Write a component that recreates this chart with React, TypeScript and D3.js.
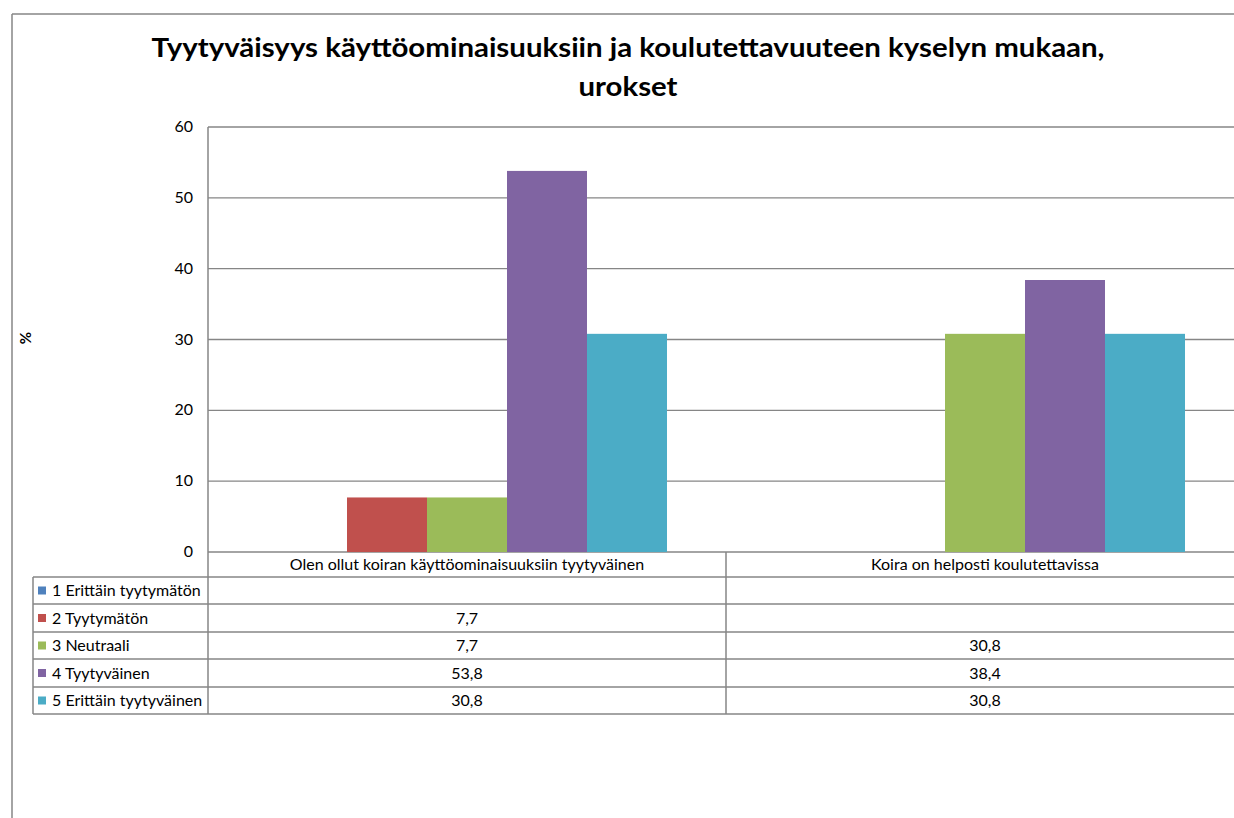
import React from "react";
import * as d3 from "d3";

const categories = [
  "Olen ollut koiran käyttöominaisuuksiin tyytyväinen",
  "Koira on helposti koulutettavissa",
];
const seriesNames = [
  "1 Erittäin tyytymätön",
  "2 Tyytymätön",
  "3 Neutraali",
  "4 Tyytyväinen",
  "5 Erittäin tyytyväinen",
];
const seriesColors = ["#4F81BD", "#C0504D", "#9BBB59", "#8064A2", "#4BACC6"];
const s1: (number | null)[] = [null, null];
const s2: (number | null)[] = [7.7, null];
const s3: (number | null)[] = [7.7, 30.8];
const s4: (number | null)[] = [53.8, 38.4];
const s5: (number | null)[] = [30.8, 30.8];
const seriesValues = [s1, s2, s3, s4, s5];
const yTicks = [0, 10, 20, 30, 40, 50, 60];
const titleLines = [
  "Tyytyväisyys käyttöominaisuuksiin ja koulutettavuuteen kyselyn mukaan,",
  "urokset",
];

const FONT = "Lato, 'Open Sans', sans-serif";
const GRID = "#868686";

export default function App() {
  const W = 1234, H = 818;
  const plotL = 208, plotT = 127, plotB = 552, plotR = 1244;
  const y = d3.scaleLinear().domain([0, 60]).range([plotB, plotT]);
  const x0 = d3.scaleBand().domain(categories).range([plotL, plotR]).paddingInner(0).paddingOuter(0);
  const groupPad = 59;
  const x1 = d3.scaleBand().domain(seriesNames).range([groupPad, x0.bandwidth() - groupPad]);
  const rowTops = [577, 604, 632, 659, 687, 714];
  const tableL = 33;
  const fmt = (v: number) => v.toFixed(1).replace(".", ",");
  const titleLens = [953, 99];

  return (
    <svg width={W} height={H} style={{ position: "absolute", left: 0, top: 0, background: "#fff" }}>
      <rect x={0} y={0} width={W} height={H} fill="#fff" />
      {/* outer frame */}
      <line x1={12} y1={14} x2={W} y2={14} stroke={GRID} strokeWidth={1.5} />
      <line x1={12} y1={14} x2={12} y2={H} stroke={GRID} strokeWidth={1.5} />
      {/* title */}
      {titleLines.map((t, i) => (
        <text key={i} x={628} y={57 + i * 39} textAnchor="middle" fontFamily={FONT}
          fontWeight="bold" fontSize={27} fill="#000"
          textLength={titleLens[i]} lengthAdjust="spacingAndGlyphs">{t}</text>
      ))}
      {/* y label */}
      <text transform={`translate(31,338) rotate(-90)`} textAnchor="middle" fontFamily={FONT}
        fontWeight="bold" fontSize={15}>%</text>
      {/* grid */}
      {yTicks.map((t) => (
        <g key={t}>
          <line x1={plotL} x2={W} y1={y(t)} y2={y(t)} stroke={GRID} strokeWidth={1.3} />
          <text x={193} y={y(t) + 5} textAnchor="end" fontFamily={FONT} fontSize={16} fill="#000">{t}</text>
        </g>
      ))}
      {/* bars */}
      {categories.map((c, ci) => (
        <g key={c} transform={`translate(${x0(c)},0)`}>
          {seriesNames.map((s, si) => {
            const v = seriesValues[si][ci];
            if (v == null) return null;
            return (
              <rect key={s} x={x1(s)} y={y(v)} width={x1.bandwidth()} height={y(0) - y(v)} fill={seriesColors[si]} />
            );
          })}
        </g>
      ))}
      {/* axis line */}
      <line x1={plotL} x2={plotL} y1={plotT} y2={rowTops[5]} stroke={GRID} strokeWidth={1.5} />
      {/* table lines */}
      {rowTops.map((r) => (
        <line key={r} x1={tableL} x2={W} y1={r} y2={r} stroke={GRID} strokeWidth={1.5} />
      ))}
      <line x1={tableL} x2={tableL} y1={rowTops[0]} y2={rowTops[5]} stroke={GRID} strokeWidth={1.5} />
      <line x1={x0(categories[1])} x2={x0(categories[1])} y1={plotB} y2={rowTops[5]} stroke={GRID} strokeWidth={1.5} />
      {/* category labels */}
      {categories.map((c) => (
        <text key={c} x={(x0(c) as number) + x0.bandwidth() / 2} y={570} textAnchor="middle"
          fontFamily={FONT} fontSize={16} fill="#000">{c}</text>
      ))}
      {/* legend rows */}
      {seriesNames.map((s, si) => {
        const top = rowTops[si], bot = rowTops[si + 1];
        const mid = (top + bot) / 2;
        return (
          <g key={s}>
            <rect x={38} y={mid - 4} width={8} height={8} fill={seriesColors[si]} />
            <text x={52} y={mid + 5.5} fontFamily={FONT} fontSize={16} fill="#000">{s}</text>
            {categories.map((c, ci) => {
              const v = seriesValues[si][ci];
              if (v == null) return null;
              return (
                <text key={c} x={(x0(c) as number) + x0.bandwidth() / 2} y={mid + 5.5} textAnchor="middle"
                  fontFamily={FONT} fontSize={16} fill="#000">{fmt(v)}</text>
              );
            })}
          </g>
        );
      })}
    </svg>
  );
}
